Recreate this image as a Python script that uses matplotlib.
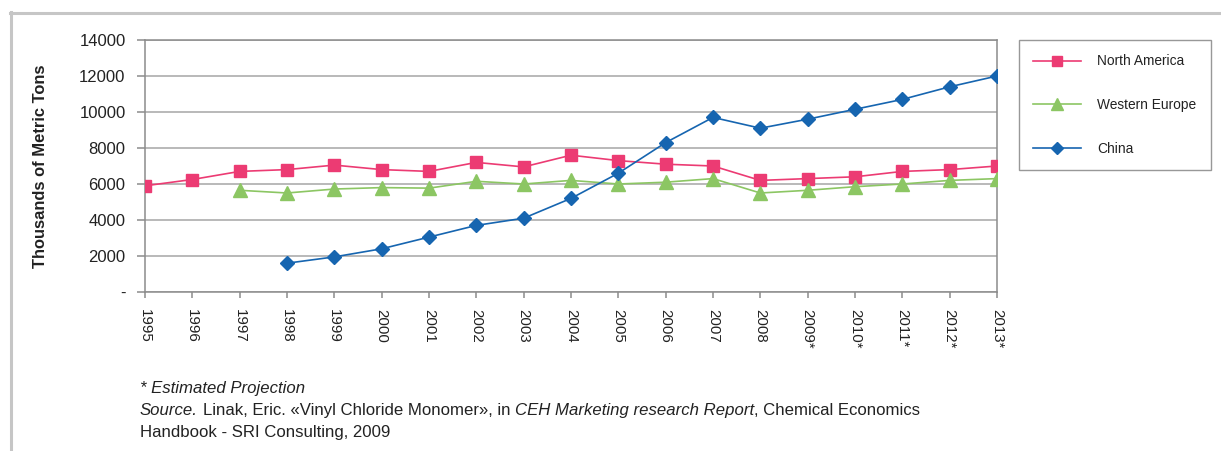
import numpy as np
import matplotlib
matplotlib.use("Agg")
import matplotlib.pyplot as plt
from matplotlib.lines import Line2D

plt.rcParams['font.family'] = ['Liberation Sans', 'DejaVu Sans']

years = ['1995', '1996', '1997', '1998', '1999', '2000', '2001', '2002', '2003', '2004',
         '2005', '2006', '2007', '2008', '2009*', '2010*', '2011*', '2012*', '2013*']
north_america = [5900, 6250, 6700, 6800, 7050, 6800, 6700, 7200, 6950, 7600,
                 7300, 7100, 7000, 6200, 6300, 6400, 6700, 6800, 7000]
western_europe = [np.nan, np.nan, 5650, 5500, 5720, 5800, 5770, 6150, 6000, 6200,
                  6000, 6100, 6300, 5500, 5650, 5850, 6000, 6200, 6300]
china = [np.nan, np.nan, np.nan, 1600, 1950, 2400, 3050, 3700, 4100, 5200,
         6600, 8300, 9700, 9100, 9600, 10150, 10700, 11400, 12000]
y_ticks = [0, 2000, 4000, 6000, 8000, 10000, 12000, 14000]
y_tick_labels = ['-', '2000', '4000', '6000', '8000', '10000', '12000', '14000']

W, H = 1221, 451
fig = plt.figure(figsize=(W / 100, H / 100), dpi=100)
fig.patch.set_facecolor('white')

ax = fig.add_axes([145 / W, 1 - 292 / H, (997 - 145) / W, (292 - 40) / H])
x = np.arange(len(years))

c_na = '#EC3B73'
c_we = '#8CC663'
c_cn = '#1665B0'

ax.plot(x, north_america, color=c_na, lw=1.2, marker='s', ms=8.5, mec=c_na, mfc=c_na,
        label='North America', zorder=3)
ax.plot(x, western_europe, color=c_we, lw=1.2, marker='^', ms=9.5, mec=c_we, mfc=c_we,
        label='Western Europe', zorder=3)
ax.plot(x, china, color=c_cn, lw=1.2, marker='D', ms=7, mec=c_cn, mfc=c_cn,
        label='China', zorder=4)

ax.set_xlim(0, len(years) - 1)
ax.set_ylim(0, 14000)
ax.set_yticks(y_ticks)
ax.set_yticklabels(y_tick_labels, fontsize=12, color='#222222')
ax.set_xticks(x)
ax.set_xticklabels(years, rotation=-90, fontsize=10.8, color='#222222', va='top', ha='center')
ax.grid(axis='y', color='#a6a6a6', lw=1.1)
ax.set_axisbelow(True)
for s in ax.spines.values():
    s.set_color('#8c8c8c')
    s.set_linewidth(1.1)
ax.tick_params(axis='both', color='#8c8c8c', width=1.1)
ax.tick_params(axis='y', length=6, pad=8)
ax.tick_params(axis='x', length=4.5, pad=8)

ax.set_ylabel('Thousands of Metric Tons', fontsize=11.9, fontweight='bold', color='#222222',
              labelpad=0)
ax.yaxis.set_label_coords(-(145 - 48) / (997 - 145), 0.5)

leg = fig.legend(loc='upper left', bbox_to_anchor=(1019 / W, 1 - 40 / H),
                 bbox_transform=fig.transFigure, borderaxespad=0, fontsize=9.9,
                 frameon=True, fancybox=False, edgecolor='#7f7f7f', handlelength=3.45,
                 handletextpad=1.2, labelspacing=2.15, borderpad=1.05, markerscale=0.9)
leg.get_frame().set_linewidth(1.0)
for t in leg.get_texts():
    t.set_color('#222222')

# outer frame of the figure panel
fig.add_artist(Line2D([11 / W, 11 / W], [0, 1 - 12 / H], transform=fig.transFigure,
                      color='#c6c6c6', lw=2.2))
fig.add_artist(Line2D([10 / W, 1], [1 - 12.5 / H, 1 - 12.5 / H], transform=fig.transFigure,
                      color='#c6c6c6', lw=2.2))

fs = 12.1
col = '#222222'
sp = 0.278 * fs
t1 = fig.text(140 / W, 1 - 396 / H, '* Estimated Projection', fontsize=fs, style='italic',
              color=col, va='bottom')
s1 = fig.text(140 / W, 1 - 418 / H, 'Source.', fontsize=fs, style='italic', color=col, va='bottom')
pieces = [("Linak, Eric. \u00abVinyl Chloride Monomer\u00bb, in", 'normal'),
          ("CEH Marketing research Report", 'italic'),
          (", Chemical Economics", 'normal')]
prev = s1
for i, (txt, st) in enumerate(pieces):
    off = 0 if txt.startswith(',') else sp
    prev = ax.annotate(txt, xy=(1, 0), xycoords=prev, xytext=(off, 0), textcoords='offset points',
                       fontsize=fs, style=st, color=col, va='bottom', ha='left',
                       annotation_clip=False)
fig.text(140 / W, 1 - 440 / H, 'Handbook - SRI Consulting, 2009', fontsize=fs, color=col,
         va='bottom')

fig.savefig('out.png', dpi=100, facecolor='white')
